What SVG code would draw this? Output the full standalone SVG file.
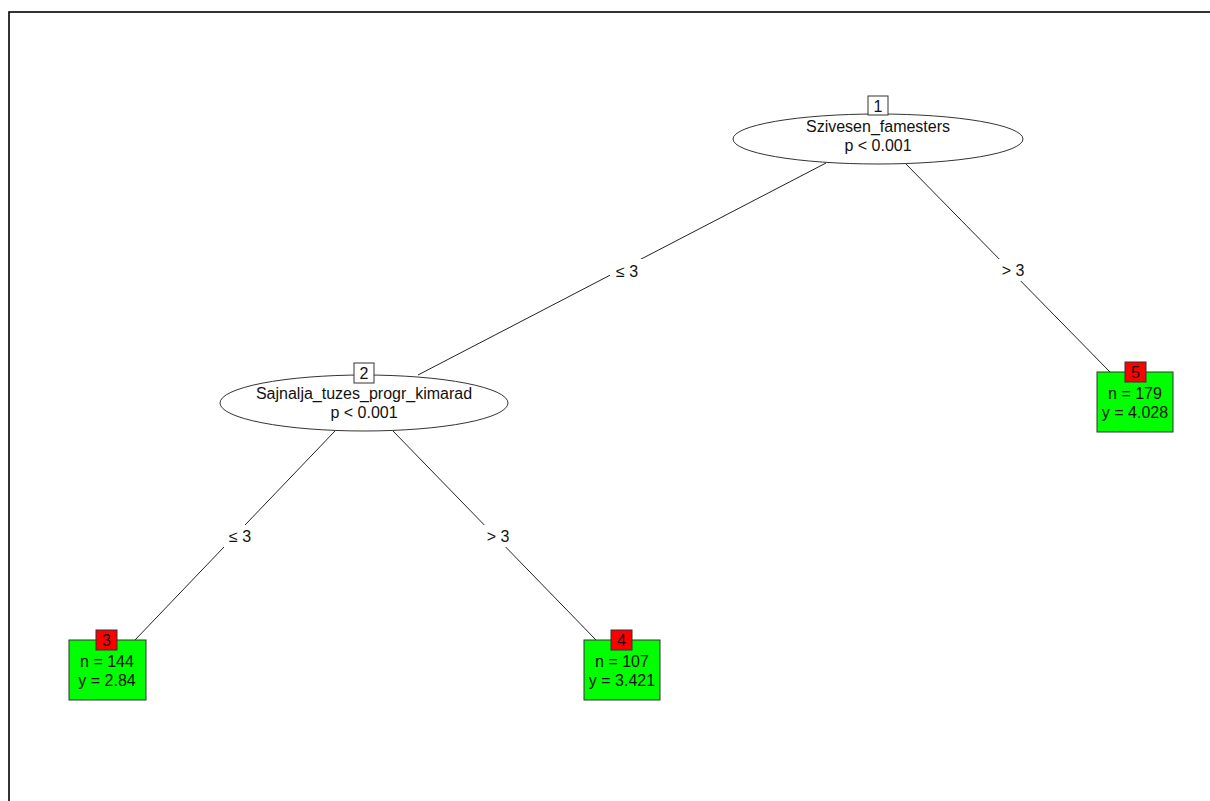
<svg xmlns="http://www.w3.org/2000/svg" width="1210" height="801" viewBox="0 0 1210 801">
<style>
text{font-family:"Liberation Sans",Arial,sans-serif;font-size:16px;fill:#111;text-anchor:middle}
.ell{fill:#fff;stroke:#333;stroke-width:1}
.idb{fill:#fff;stroke:#333;stroke-width:1}
.leaf{fill:#00ff00;stroke:#333;stroke-width:1}
.idr{fill:#ff0000;stroke:#333;stroke-width:1}
.edge{stroke:#222;stroke-width:1;fill:none}
.lbg{fill:#fff}
</style>
<rect width="1210" height="801" fill="#fff"/>
<rect x="9" y="12" width="1220" height="800" fill="none" stroke="#000" stroke-width="1.6"/>
<g id="edges">
<line class="edge" x1="826" y1="163" x2="418" y2="375"/>
<line class="edge" x1="905" y1="163" x2="1110" y2="372"/>
<line class="edge" x1="335" y1="431" x2="135" y2="640"/>
<line class="edge" x1="393" y1="431" x2="596" y2="640"/>
<rect class="lbg" x="610" y="259" width="34" height="22"/>
<text x="627" y="277">≤ 3</text>
<rect class="lbg" x="996" y="259" width="34" height="22"/>
<text x="1013" y="276">&gt; 3</text>
<rect class="lbg" x="223" y="525" width="34" height="22"/>
<text x="240" y="542">≤ 3</text>
<rect class="lbg" x="481" y="525" width="34" height="22"/>
<text x="498" y="542">&gt; 3</text>
</g>
<g id="node1">
<ellipse class="ell" cx="878" cy="139" rx="145" ry="25"/>
<rect class="idb" x="868" y="96" width="20" height="19"/>
<text x="878" y="112">1</text>
<text x="878" y="132">Szivesen_famesters</text>
<text x="878" y="151">p &lt; 0.001</text>
</g>
<g id="node2">
<ellipse class="ell" cx="364" cy="403" rx="144" ry="28"/>
<rect class="idb" x="354" y="363" width="20" height="20"/>
<text x="364" y="379">2</text>
<text x="364" y="399">Sajnalja_tuzes_progr_kimarad</text>
<text x="364" y="418">p &lt; 0.001</text>
</g>
<g id="node3">
<rect class="leaf" x="69" y="640" width="77" height="60"/>
<rect class="idr" x="96" y="630" width="21" height="20"/>
<text x="106.5" y="646">3</text>
<text x="107" y="667">n = 144</text>
<text x="107" y="686">y = 2.84</text>
</g>
<g id="node4">
<rect class="leaf" x="584" y="640" width="76" height="60"/>
<rect class="idr" x="611" y="630" width="21" height="20"/>
<text x="621.5" y="646">4</text>
<text x="622" y="667">n = 107</text>
<text x="622" y="686">y = 3.421</text>
</g>
<g id="node5">
<rect class="leaf" x="1097" y="372" width="76" height="60"/>
<rect class="idr" x="1125" y="362" width="21" height="20"/>
<text x="1135.5" y="378">5</text>
<text x="1135" y="399">n = 179</text>
<text x="1135" y="418">y = 4.028</text>
</g>
</svg>
